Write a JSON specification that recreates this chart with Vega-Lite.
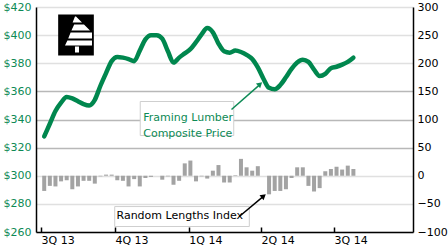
{
  "$schema": "https://vega.github.io/schema/vega-lite/v6.json",
  "width": 377,
  "height": 225,
  "autosize": "none",
  "padding": {"left": 36, "top": 7, "right": 35, "bottom": 15},
  "background": "white",
  "config": {
    "font": "DejaVu Sans",
    "view": {"stroke": null},
    "axis": {"labelFont": "DejaVu Sans", "labelFontSize": 11, "title": null}
  },
  "datasets": {
    "weekly": [
      {"date": "2013-07-05", "price": 328, "chg": -27},
      {"date": "2013-07-12", "price": 337, "chg": -18},
      {"date": "2013-07-19", "price": 346, "chg": -19},
      {"date": "2013-07-26", "price": 352, "chg": -10},
      {"date": "2013-08-02", "price": 356, "chg": -8},
      {"date": "2013-08-09", "price": 355, "chg": -24},
      {"date": "2013-08-16", "price": 353, "chg": -19},
      {"date": "2013-08-23", "price": 351, "chg": -9},
      {"date": "2013-08-30", "price": 350, "chg": -9},
      {"date": "2013-09-06", "price": 354, "chg": -14},
      {"date": "2013-09-13", "price": 364, "chg": -1},
      {"date": "2013-09-20", "price": 373, "chg": 2},
      {"date": "2013-09-27", "price": 381.5, "chg": 2},
      {"date": "2013-10-04", "price": 384.5, "chg": -8},
      {"date": "2013-10-11", "price": 384, "chg": -9},
      {"date": "2013-10-18", "price": 383, "chg": -19},
      {"date": "2013-10-25", "price": 381.5, "chg": -6},
      {"date": "2013-11-01", "price": 389, "chg": -19},
      {"date": "2013-11-08", "price": 397, "chg": -4},
      {"date": "2013-11-15", "price": 400, "chg": -2},
      {"date": "2013-11-22", "price": 400, "chg": 0},
      {"date": "2013-11-29", "price": 397.5, "chg": -7},
      {"date": "2013-12-06", "price": 388.5, "chg": -1},
      {"date": "2013-12-13", "price": 380.5, "chg": -16},
      {"date": "2013-12-20", "price": 384, "chg": -9},
      {"date": "2013-12-27", "price": 387, "chg": 22},
      {"date": "2014-01-03", "price": 390, "chg": 27},
      {"date": "2014-01-10", "price": 395, "chg": -10},
      {"date": "2014-01-17", "price": 400.5, "chg": -1},
      {"date": "2014-01-24", "price": 405, "chg": -5},
      {"date": "2014-01-31", "price": 402, "chg": 9},
      {"date": "2014-02-07", "price": 394, "chg": 19},
      {"date": "2014-02-14", "price": 388.5, "chg": -12},
      {"date": "2014-02-21", "price": 387.5, "chg": -12},
      {"date": "2014-02-28", "price": 389, "chg": 1},
      {"date": "2014-03-07", "price": 388, "chg": 30},
      {"date": "2014-03-14", "price": 386, "chg": 15},
      {"date": "2014-03-21", "price": 383, "chg": 9},
      {"date": "2014-03-28", "price": 377, "chg": 17},
      {"date": "2014-04-04", "price": 369, "chg": 0},
      {"date": "2014-04-11", "price": 362.5, "chg": -33},
      {"date": "2014-04-18", "price": 361.5, "chg": -27},
      {"date": "2014-04-25", "price": 364.5, "chg": -27},
      {"date": "2014-05-02", "price": 370, "chg": -24},
      {"date": "2014-05-09", "price": 376, "chg": -4},
      {"date": "2014-05-16", "price": 380.5, "chg": 15},
      {"date": "2014-05-23", "price": 382.5, "chg": 15},
      {"date": "2014-05-30", "price": 381, "chg": -18},
      {"date": "2014-06-06", "price": 375.5, "chg": -28},
      {"date": "2014-06-13", "price": 371, "chg": -22},
      {"date": "2014-06-20", "price": 372.5, "chg": 8},
      {"date": "2014-06-27", "price": 376.5, "chg": 12},
      {"date": "2014-07-04", "price": 377.5, "chg": 16},
      {"date": "2014-07-11", "price": 379, "chg": 11},
      {"date": "2014-07-18", "price": 381, "chg": 18},
      {"date": "2014-07-25", "price": 384, "chg": 12}
    ],
    "one": [{"k": 1}]
  },
  "layer": [
    {
      "data": {"name": "weekly"},
      "mark": {"type": "bar", "color": "#a3a3a3", "width": 4},
      "encoding": {
        "x": {
          "field": "date",
          "type": "temporal",
          "scale": {
            "type": "utc",
            "nice": false,
            "domain": [
              {"year": 2013, "month": 7, "date": 1, "utc": true},
              {"year": 2014, "month": 10, "date": 1, "utc": true}
            ]
          },
          "axis": {
            "orient": "bottom",
            "values": [
              {"year": 2013, "month": 7, "date": 1, "utc": true},
              {"year": 2013, "month": 10, "date": 1, "utc": true},
              {"year": 2014, "month": 1, "date": 1, "utc": true},
              {"year": 2014, "month": 4, "date": 1, "utc": true},
              {"year": 2014, "month": 7, "date": 1, "utc": true}
            ],
            "labelExpr": "utcquarter(datum.value) + 'Q ' + utcFormat(datum.value, '%y')",
            "labelAlign": "left",
            "labelBaseline": "top",
            "labelPadding": 7,
            "labelColor": "black",
            "labelOverlap": false,
            "labelFlush": false,
            "labelBound": false,
            "ticks": true,
            "tickSize": -5,
            "tickColor": "black",
            "tickWidth": 1.5,
            "domainColor": "black",
            "domainWidth": 1.5,
            "grid": false,
            "title": null
          }
        },
        "y": {
          "field": "chg",
          "type": "quantitative",
          "scale": {"domain": [-100, 300], "nice": false},
          "axis": {
            "orient": "right",
            "values": [-100, -50, 0, 50, 100, 150, 200, 250, 300],
            "format": "d",
            "labelColor": "black",
            "ticks": false,
            "labelPadding": 4,
            "domainColor": "black",
            "domainWidth": 1.5,
            "grid": false,
            "title": null
          }
        }
      }
    },
    {
      "data": {"name": "one"},
      "mark": {"type": "rect", "fill": "white", "stroke": "#cfcfcf", "strokeWidth": 1},
      "encoding": {
        "x": {"datum": {"year": 2013, "month": 11, "date": 1, "hours": 14, "utc": true}, "type": "temporal"},
        "x2": {"datum": {"year": 2014, "month": 2, "date": 26, "utc": true}},
        "y": {"datum": 352.8, "type": "quantitative", "scale": {"domain": [260, 420], "nice": false, "zero": false}, "axis": null},
        "y2": {"datum": 328.6}
      }
    },
    {
      "data": {"name": "one"},
      "mark": {"type": "rect", "fill": "white", "stroke": "#cfcfcf", "strokeWidth": 1},
      "encoding": {
        "x": {"datum": {"year": 2013, "month": 9, "date": 30, "hours": 19, "utc": true}, "type": "temporal"},
        "x2": {"datum": {"year": 2014, "month": 3, "date": 17, "hours": 10, "utc": true}},
        "y": {"datum": 278.1, "type": "quantitative", "scale": {"domain": [260, 420], "nice": false, "zero": false}, "axis": null},
        "y2": {"datum": 263.9}
      }
    },
    {
      "data": {"name": "weekly"},
      "mark": {"type": "line", "color": "#00874e", "strokeWidth": 4.5, "strokeCap": "round", "strokeJoin": "round", "interpolate": "monotone"},
      "encoding": {
        "x": {"field": "date", "type": "temporal"},
        "y": {
          "field": "price",
          "type": "quantitative",
          "scale": {"domain": [260, 420], "nice": false, "zero": false},
          "axis": {
            "orient": "left",
            "values": [260, 280, 300, 320, 340, 360, 380, 400, 420],
            "format": "$d",
            "labelColor": "#0d8a55",
            "ticks": false,
            "labelPadding": 5,
            "domainColor": "black",
            "domainWidth": 1.5,
            "grid": true,
            "gridColor": {"condition": {"test": "datum.value >= 320 && datum.value <= 360", "value": "#b8b8b8"}, "value": "#e0e0e0"},
            "gridWidth": 1.5,
            "title": null
          }
        }
      }
    },
    {
      "data": {"values": [{"label": "Framing Lumber\nComposite Price"}]},
      "mark": {"type": "text", "align": "left", "baseline": "middle", "lineBreak": "\n", "lineHeight": 16.5, "fontSize": 11, "color": "#0d8a55"},
      "encoding": {
        "x": {"datum": {"year": 2013, "month": 11, "date": 5, "hours": 7, "utc": true}, "type": "temporal"},
        "y": {"datum": 341.2, "type": "quantitative", "scale": {"domain": [260, 420], "nice": false, "zero": false}, "axis": null},
        "text": {"field": "label"}
      }
    },
    {
      "data": {"values": [{"label": "Random Lengths Index"}]},
      "mark": {"type": "text", "align": "left", "baseline": "middle", "fontSize": 11, "color": "black"},
      "encoding": {
        "x": {"datum": {"year": 2013, "month": 10, "date": 3, "utc": true}, "type": "temporal"},
        "y": {"datum": 271.2, "type": "quantitative", "scale": {"domain": [260, 420], "nice": false, "zero": false}, "axis": null},
        "text": {"field": "label"}
      }
    },
    {
      "data": {"name": "one"},
      "mark": {"type": "rule", "color": "#0d8a55", "strokeWidth": 1.5},
      "encoding": {
        "x": {"datum": {"year": 2014, "month": 2, "date": 23, "hours": 5, "utc": true}, "type": "temporal"},
        "x2": {"datum": {"year": 2014, "month": 3, "date": 30, "hours": 12, "utc": true}},
        "y": {"datum": 347.1, "type": "quantitative", "scale": {"domain": [260, 420], "nice": false, "zero": false}, "axis": null},
        "y2": {"datum": 364.8}
      }
    },
    {
      "data": {"name": "one"},
      "mark": {"type": "point", "shape": "triangle-up", "filled": true, "color": "#0d8a55", "size": 40, "angle": 48, "opacity": 1},
      "encoding": {
        "x": {"datum": {"year": 2014, "month": 3, "date": 30, "hours": 20, "utc": true}, "type": "temporal"},
        "y": {"datum": 365.2, "type": "quantitative", "scale": {"domain": [260, 420], "nice": false, "zero": false}, "axis": null}
      }
    },
    {
      "data": {"name": "one"},
      "mark": {"type": "rule", "color": "black", "strokeWidth": 1.5},
      "encoding": {
        "x": {"datum": {"year": 2014, "month": 3, "date": 5, "hours": 7, "utc": true}, "type": "temporal"},
        "x2": {"datum": {"year": 2014, "month": 4, "date": 3, "hours": 12, "utc": true}},
        "y": {"datum": 271.2, "type": "quantitative", "scale": {"domain": [260, 420], "nice": false, "zero": false}, "axis": null},
        "y2": {"datum": 285.2}
      }
    },
    {
      "data": {"name": "one"},
      "mark": {"type": "point", "shape": "triangle-up", "filled": true, "color": "black", "size": 40, "angle": 50, "opacity": 1},
      "encoding": {
        "x": {"datum": {"year": 2014, "month": 4, "date": 4, "hours": 6, "utc": true}, "type": "temporal"},
        "y": {"datum": 285.6, "type": "quantitative", "scale": {"domain": [260, 420], "nice": false, "zero": false}, "axis": null}
      }
    },
    {
      "data": {"name": "one"},
      "mark": {"type": "point", "shape": "M-0.87,-1L0.87,-1L0.87,1L-0.87,1Z", "filled": true, "color": "black", "size": 1681, "opacity": 1, "strokeWidth": 0},
      "encoding": {
        "x": {"datum": {"year": 2013, "month": 8, "date": 13, "hours": 14, "utc": true}, "type": "temporal"},
        "y": {"datum": 400.1, "type": "quantitative", "scale": {"domain": [260, 420], "nice": false, "zero": false}, "axis": null}
      }
    },
    {
      "data": {"name": "one"},
      "mark": {"type": "point", "shape": "M-0.049,-0.902L0,-0.902L0.293,-0.61L-0.166,-0.61Z M-0.088,-0.512L0.39,-0.512L0.683,-0.22L-0.224,-0.22Z M-0.263,-0.122L0.78,-0.122L0.78,0.171L-0.38,0.171Z M-0.42,0.268L0.78,0.268L0.78,0.512L-0.537,0.512Z M-0.049,0.561L0.146,0.561L0.146,0.854L-0.049,0.854Z", "filled": true, "color": "white", "size": 1681, "opacity": 1, "strokeWidth": 0},
      "encoding": {
        "x": {"datum": {"year": 2013, "month": 8, "date": 13, "hours": 14, "utc": true}, "type": "temporal"},
        "y": {"datum": 400.1, "type": "quantitative", "scale": {"domain": [260, 420], "nice": false, "zero": false}, "axis": null}
      }
    }
  ],
  "resolve": {"scale": {"y": "independent"}}
}
